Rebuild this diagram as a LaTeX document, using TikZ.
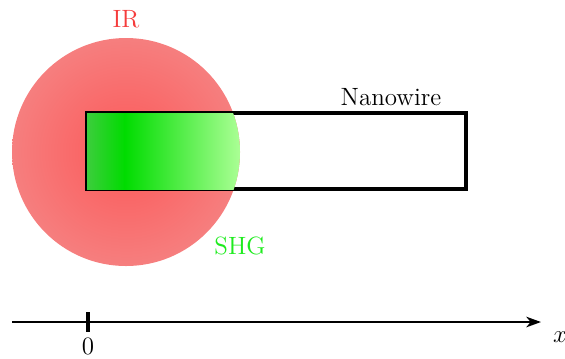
\documentclass[tikz,border=0pt]{standalone}
\usetikzlibrary{arrows.meta}
\definecolor{redin}{RGB}{252,88,88}
\definecolor{redout}{RGB}{240,165,165}
\definecolor{gleft}{RGB}{60,205,60}
\definecolor{gpeak}{RGB}{0,220,0}
\definecolor{gright}{RGB}{172,255,150}
\definecolor{shgc}{RGB}{30,235,30}
\definecolor{irc}{RGB}{245,60,60}
\pgfdeclareradialshading{redglow}{\pgfpoint{0bp}{0bp}}{color(0bp)=(redin); color(50bp)=(redout); color(75bp)=(redout)}
\tikzset{
  wire/.style={draw=black, line width=1.5pt},
  axisline/.style={draw=black, line width=1.2pt},
  lbl/.style={inner sep=0pt, font=\large},
}
\begin{document}
\begin{tikzpicture}[x=0.48pt, y=-0.48pt]
\useasboundingbox (0,0) rectangle (565,358);
% IR beam
\shade[shading=redglow] (126,152) circle (114);
% nanowire
\draw[wire] (87,113) rectangle (466,189);
% SHG
\begin{scope}
  \clip (126,152) circle (114);
  \clip (87,113) rectangle (466,189);
  \shade[left color=gleft, right color=gpeak] (87,112) rectangle (125,190);
  \shade[left color=gpeak, right color=gright] (124.5,112) rectangle (241,190);
\end{scope}
% labels
\node[lbl, text=irc] (ir) at (126,19) {IR};
\node[lbl] (nw) at (391,97) {Nanowire};
\node[lbl, text=shgc] (shg) at (240,246) {SHG};
% axis
\coordinate (a0) at (12,322);
\coordinate (a1) at (541,322);
\draw[axisline, -{Stealth[length=7pt, width=5pt, inset=2pt]}] (a0) -- (a1);
\coordinate (t0) at (88,312);
\coordinate (t1) at (88,332);
\draw[black, line width=1.5pt] (t0) -- (t1);
\node[lbl] (zero) at (88,346) {0};
\node[lbl] (xl) at (560,337) {$x$};
\end{tikzpicture}
\end{document}
